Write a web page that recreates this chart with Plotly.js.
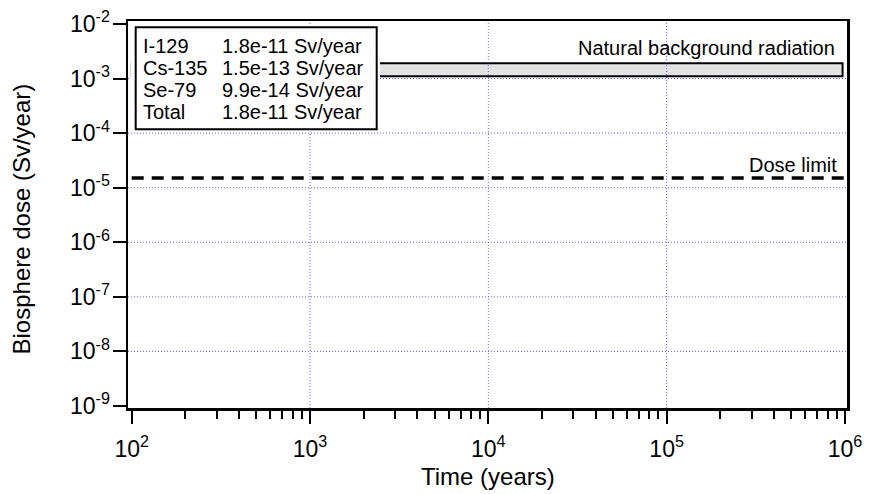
<!DOCTYPE html>
<html>
<head>
<meta charset="utf-8">
<script src="https://cdn.plot.ly/plotly-3.0.1.min.js"></script>
<style>
  html, body { margin: 0; padding: 0; background: #ffffff; }
  #chart { width: 869px; height: 494px; }
</style>
</head>
<body>
<div id="chart"></div>
<script>
// ---- Axis ticks -------------------------------------------------------
const xTickVals = [1e2, 1e3, 1e4, 1e5, 1e6];
const xTickText = ['10<sup>2</sup>', '10<sup>3</sup>', '10<sup>4</sup>', '10<sup>5</sup>', '10<sup>6</sup>'];
const xMinorVals = [
  200, 300, 400, 500, 600, 700, 800, 900,
  2e3, 3e3, 4e3, 5e3, 6e3, 7e3, 8e3, 9e3,
  2e4, 3e4, 4e4, 5e4, 6e4, 7e4, 8e4, 9e4,
  2e5, 3e5, 4e5, 5e5, 6e5, 7e5, 8e5, 9e5
];
const yTickVals = [1e-9, 1e-8, 1e-7, 1e-6, 1e-5, 1e-4, 1e-3, 1e-2];
const yTickText = ['10<sup>-9</sup>', '10<sup>-8</sup>', '10<sup>-7</sup>', '10<sup>-6</sup>',
                   '10<sup>-5</sup>', '10<sup>-4</sup>', '10<sup>-3</sup>', '10<sup>-2</sup>'];
// interior decades that carry a dotted grid line
const xGridVals = [1e3, 1e4, 1e5];
const yGridVals = [1e-8, 1e-7, 1e-6, 1e-5, 1e-4, 1e-3];

// ---- Peak biosphere dose per nuclide (Sv/year) -------------------------
const nuclides = ['I-129', 'Cs-135', 'Se-79', 'Total'];
const peakDose = [1.8e-11, 1.5e-13, 9.9e-14, 1.8e-11];

// ---- Reference levels ---------------------------------------------------
const backgroundLow = 1.1e-3;      // natural background radiation, lower bound (Sv/year)
const backgroundHigh = 1.9e-3;     // natural background radiation, upper bound (Sv/year)
const backgroundTime = [1e2, 9.7e5];
const doseLimit = 1.5e-5;          // dose limit (Sv/year)
const doseLimitTime = [1e2, 1e6];

// ---- Layout geometry -----------------------------------------------------
const W = 869, H = 494;
const M = { l: 128, r: 22, t: 21, b: 86 };
const plotW = W - M.l - M.r, plotH = H - M.t - M.b;
const px = x => (x - M.l) / plotW;          // page pixel -> paper x
const py = y => (M.t + plotH - y) / plotH;  // page pixel -> paper y

const FONT = 'Liberation Sans, Arial, Helvetica, sans-serif';
const GRID = 'rgb(100,100,255)';

const traces = [
  {
    // natural background band
    x: [backgroundTime[0], backgroundTime[1], backgroundTime[1], backgroundTime[0], backgroundTime[0]],
    y: [backgroundLow, backgroundLow, backgroundHigh, backgroundHigh, backgroundLow],
    mode: 'lines',
    fill: 'toself',
    fillcolor: 'rgb(226,226,226)',
    line: { color: '#000000', width: 2 },
    hoverinfo: 'skip',
    showlegend: false
  },
  {
    // dose limit
    x: doseLimitTime,
    y: [doseLimit, doseLimit],
    mode: 'lines',
    line: { color: '#000000', width: 3.5, dash: '12px,8px' },
    hoverinfo: 'skip',
    showlegend: false
  }
];

const shapes = [];
xGridVals.forEach(v => shapes.push({
  type: 'line', layer: 'above', xref: 'x', yref: 'paper',
  x0: v, x1: v, y0: 0, y1: 1,
  line: { color: GRID, width: 1, dash: '1px,2px' }
}));
yGridVals.forEach(v => shapes.push({
  type: 'line', layer: 'above', xref: 'paper', yref: 'y',
  x0: 0, x1: 1, y0: v, y1: v,
  line: { color: GRID, width: 1, dash: '1px,2px' }
}));
// legend box: white clearance, then framed panel
shapes.push({
  type: 'rect', layer: 'above', xref: 'paper', yref: 'paper',
  x0: px(130.5), x1: px(380), y0: py(131.5), y1: py(25),
  fillcolor: '#ffffff', line: { width: 0 }
});
shapes.push({
  type: 'rect', layer: 'above', xref: 'paper', yref: 'paper',
  x0: px(135.7), x1: px(376.7), y0: py(129.3), y1: py(27.3),
  fillcolor: '#ffffff', line: { color: '#000000', width: 2 }
});

const annotations = [];
nuclides.forEach((name, i) => {
  const yc = py(45.5 + 22.3 * i);
  annotations.push({
    xref: 'paper', yref: 'paper', x: px(140.5), y: yc,
    xanchor: 'left', yanchor: 'middle', showarrow: false,
    text: name, font: { family: FONT, size: 20, color: '#000' }
  });
  annotations.push({
    xref: 'paper', yref: 'paper', x: px(220.3), y: yc,
    xanchor: 'left', yanchor: 'middle', showarrow: false,
    text: peakDose[i].toExponential(1) + ' Sv/year',
    font: { family: FONT, size: 20, color: '#000' }
  });
});
annotations.push({
  xref: 'x', yref: 'y', x: Math.log10(backgroundTime[1]), y: Math.log10(backgroundHigh),
  xanchor: 'right', yanchor: 'middle', xshift: -5.5, yshift: 15.2, showarrow: false,
  text: 'Natural background radiation', font: { family: FONT, size: 20, color: '#000' }
});
annotations.push({
  xref: 'x', yref: 'y', x: Math.log10(backgroundTime[1]), y: Math.log10(doseLimit),
  xanchor: 'right', yanchor: 'middle', xshift: -4, yshift: 12.7, showarrow: false,
  text: 'Dose limit', font: { family: FONT, size: 20, color: '#000' }
});
// axis titles
annotations.push({
  xref: 'paper', yref: 'paper', x: 0.5, y: py(476.3),
  xanchor: 'center', yanchor: 'middle', showarrow: false,
  text: 'Time (years)', font: { family: FONT, size: 24, color: '#000' }
});
annotations.push({
  xref: 'paper', yref: 'paper', x: px(20.5), y: py(219),
  xanchor: 'center', yanchor: 'middle', showarrow: false, textangle: -90,
  text: 'Biosphere dose (Sv/year)', font: { family: FONT, size: 24, color: '#000' }
});

const layout = {
  width: W, height: H,
  margin: M,
  paper_bgcolor: '#ffffff',
  plot_bgcolor: '#ffffff',
  showlegend: false,
  font: { family: FONT, color: '#000' },
  xaxis: {
    type: 'log',
    range: [1.9792, 6.0117],
    tickmode: 'array', tickvals: xTickVals, ticktext: xTickText,
    ticks: 'outside', ticklen: 13, tickwidth: 2, tickcolor: '#000',
    ticklabelstandoff: 6,
    tickfont: { family: FONT, size: 23, color: '#000' },
    minor: { tickmode: 'array', tickvals: xMinorVals, ticks: 'outside', ticklen: 8, tickwidth: 2, tickcolor: '#000', showgrid: false },
    showgrid: false, zeroline: false,
    showline: true, linecolor: '#000', linewidth: 2.5, mirror: true
  },
  yaxis: {
    type: 'log',
    range: [-9.037, -1.945],
    tickmode: 'array', tickvals: yTickVals, ticktext: yTickText,
    ticks: 'outside', ticklen: 13, tickwidth: 2, tickcolor: '#000',
    ticklabelstandoff: -2,
    tickfont: { family: FONT, size: 23, color: '#000' },
    showgrid: false, zeroline: false,
    showline: true, linecolor: '#000', linewidth: 2.5, mirror: true
  },
  shapes: shapes,
  annotations: annotations
};

Plotly.newPlot('chart', traces, layout, { staticPlot: true, displayModeBar: false });
</script>
</body>
</html>
